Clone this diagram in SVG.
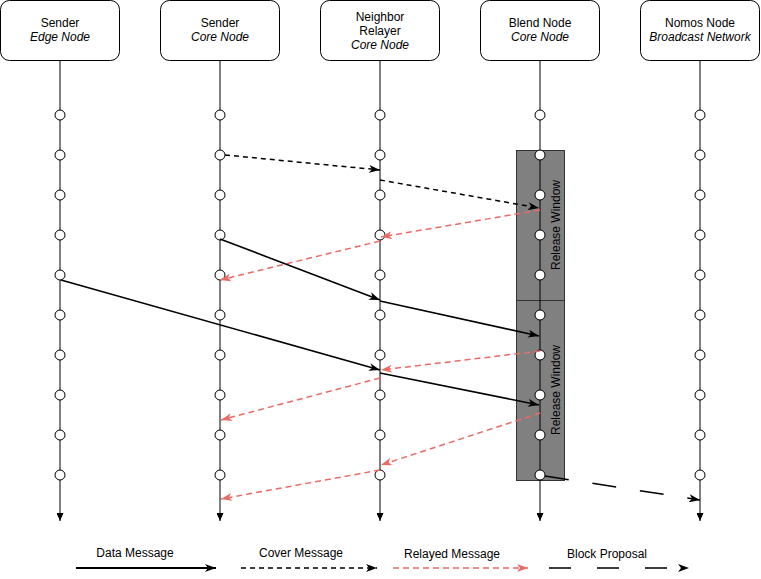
<svg xmlns="http://www.w3.org/2000/svg" width="761" height="579" viewBox="0 0 761 579">
<style>
.hdr{fill:#fff;stroke:#000;stroke-width:1}
.t{font-family:"Liberation Sans",Arial,sans-serif;font-size:12px;fill:#000;text-anchor:middle}
.i{font-style:italic}
.life{stroke:#000;stroke-width:1;fill:none}
.dot{fill:#fff;stroke:#000;stroke-width:1}
.win{fill:#808080;stroke:#333;stroke-width:1}
.data{stroke:#000;stroke-width:1.6;fill:none}
.cover{stroke:#000;stroke-width:1.5;fill:none;stroke-dasharray:5 4}
.relay{stroke:#EA6B66;stroke-width:1.5;fill:none;stroke-dasharray:6 4}
.block{stroke:#000;stroke-width:1.5;fill:none;stroke-dasharray:24 24}
</style>
<defs>
<marker id="ah" viewBox="0 0 11 8" refX="11" refY="4" markerWidth="11" markerHeight="8" markerUnits="userSpaceOnUse" orient="auto">
<path d="M0,0 L11,4 L0,8 L3,4 z" fill="#000"/>
</marker>
<marker id="ahr" viewBox="0 0 11 8" refX="11" refY="4" markerWidth="11" markerHeight="8" markerUnits="userSpaceOnUse" orient="auto">
<path d="M0,0 L11,4 L0,8 L3,4 z" fill="#EA6B66"/>
</marker>
<marker id="lh" viewBox="0 0 8 7" refX="8" refY="3.5" markerWidth="8" markerHeight="7" markerUnits="userSpaceOnUse" orient="auto">
<path d="M0,0 L8,3.5 L0,7 z" fill="#000"/>
</marker>
<g id="dots">
<circle cx="0" cy="115" r="5" class="dot"/>
<circle cx="0" cy="155" r="5" class="dot"/>
<circle cx="0" cy="195" r="5" class="dot"/>
<circle cx="0" cy="235" r="5" class="dot"/>
<circle cx="0" cy="275" r="5" class="dot"/>
<circle cx="0" cy="315" r="5" class="dot"/>
<circle cx="0" cy="355" r="5" class="dot"/>
<circle cx="0" cy="395" r="5" class="dot"/>
<circle cx="0" cy="435" r="5" class="dot"/>
<circle cx="0" cy="475" r="5" class="dot"/>
</g>
</defs>

<g id="release-windows">
<rect x="516.5" y="150.5" width="48" height="150" class="win"/>
<rect x="516.5" y="300.5" width="48" height="180" class="win"/>
<text class="t" transform="translate(560,225) rotate(-90)">Release Window</text>
<text class="t" transform="translate(560,390) rotate(-90)">Release Window</text>
</g>

<g id="sender-edge">
<rect x="0.5" y="0.5" width="119" height="60" rx="9" class="hdr"/>
<text class="t" x="60" y="27">Sender</text>
<text class="t i" x="60" y="41">Edge Node</text>
<line x1="60" y1="60.5" x2="60" y2="521" class="life" marker-end="url(#lh)"/>
<use href="#dots" x="60"/>
</g>

<g id="sender-core">
<rect x="160.5" y="0.5" width="119" height="60" rx="9" class="hdr"/>
<text class="t" x="220" y="27">Sender</text>
<text class="t i" x="220" y="41">Core Node</text>
<line x1="220" y1="60.5" x2="220" y2="521" class="life" marker-end="url(#lh)"/>
<use href="#dots" x="220"/>
</g>

<g id="neighbor-relayer">
<rect x="320.5" y="0.5" width="119" height="60" rx="9" class="hdr"/>
<text class="t" x="380" y="20.5">Neighbor</text>
<text class="t" x="380" y="34.5">Relayer</text>
<text class="t i" x="380" y="48.5">Core Node</text>
<line x1="380" y1="60.5" x2="380" y2="521" class="life" marker-end="url(#lh)"/>
<use href="#dots" x="380"/>
</g>

<g id="blend-node">
<rect x="480.5" y="0.5" width="119" height="60" rx="9" class="hdr"/>
<text class="t" x="540" y="27">Blend Node</text>
<text class="t i" x="540" y="41">Core Node</text>
<line x1="540" y1="60.5" x2="540" y2="521" class="life" marker-end="url(#lh)"/>
<use href="#dots" x="540"/>
</g>

<g id="nomos-node">
<rect x="640.5" y="0.5" width="119" height="60" rx="9" class="hdr"/>
<text class="t" x="700" y="27">Nomos Node</text>
<text class="t i" x="700" y="41">Broadcast Network</text>
<line x1="700" y1="60.5" x2="700" y2="521" class="life" marker-end="url(#lh)"/>
<use href="#dots" x="700"/>
</g>

<g id="connectors">
<path d="M225,155 L380,170" class="cover" marker-end="url(#ah)"/>
<path d="M380,180 L539,208" class="cover" marker-end="url(#ah)"/>
<path d="M540,210 L381,237" class="relay" marker-end="url(#ahr)"/>
<path d="M380,241 L220,280" class="relay" marker-end="url(#ahr)"/>
<path d="M220,239 L380,300" class="data" marker-end="url(#ah)"/>
<path d="M380,301 L539,336" class="data" marker-end="url(#ah)"/>
<path d="M61,280 L380,370" class="data" marker-end="url(#ah)"/>
<path d="M380,373 L539,405" class="data" marker-end="url(#ah)"/>
<path d="M540,351 L381,370" class="relay" marker-end="url(#ahr)"/>
<path d="M380,378 L221,420" class="relay" marker-end="url(#ahr)"/>
<path d="M540,413 L381,465" class="relay" marker-end="url(#ahr)"/>
<path d="M380,470 L221,499" class="relay" marker-end="url(#ahr)"/>
<path d="M545,476 L700,500" class="block" marker-end="url(#ah)"/>
</g>

<g id="legend">
<text class="t" x="135" y="557">Data Message</text>
<text class="t" x="301" y="557">Cover Message</text>
<text class="t" x="452" y="558">Relayed Message</text>
<text class="t" x="607" y="558">Block Proposal</text>
<path d="M76,568 L216,568" class="data" style="stroke-width:2" marker-end="url(#ah)"/>
<path d="M241,568 L377,568" class="cover" marker-end="url(#ah)"/>
<path d="M393,568 L528,568" class="relay" marker-end="url(#ahr)"/>
<path d="M549,568 L689,568" class="block" style="stroke-dasharray:22 26" marker-end="url(#ah)"/>
</g>
</svg>
